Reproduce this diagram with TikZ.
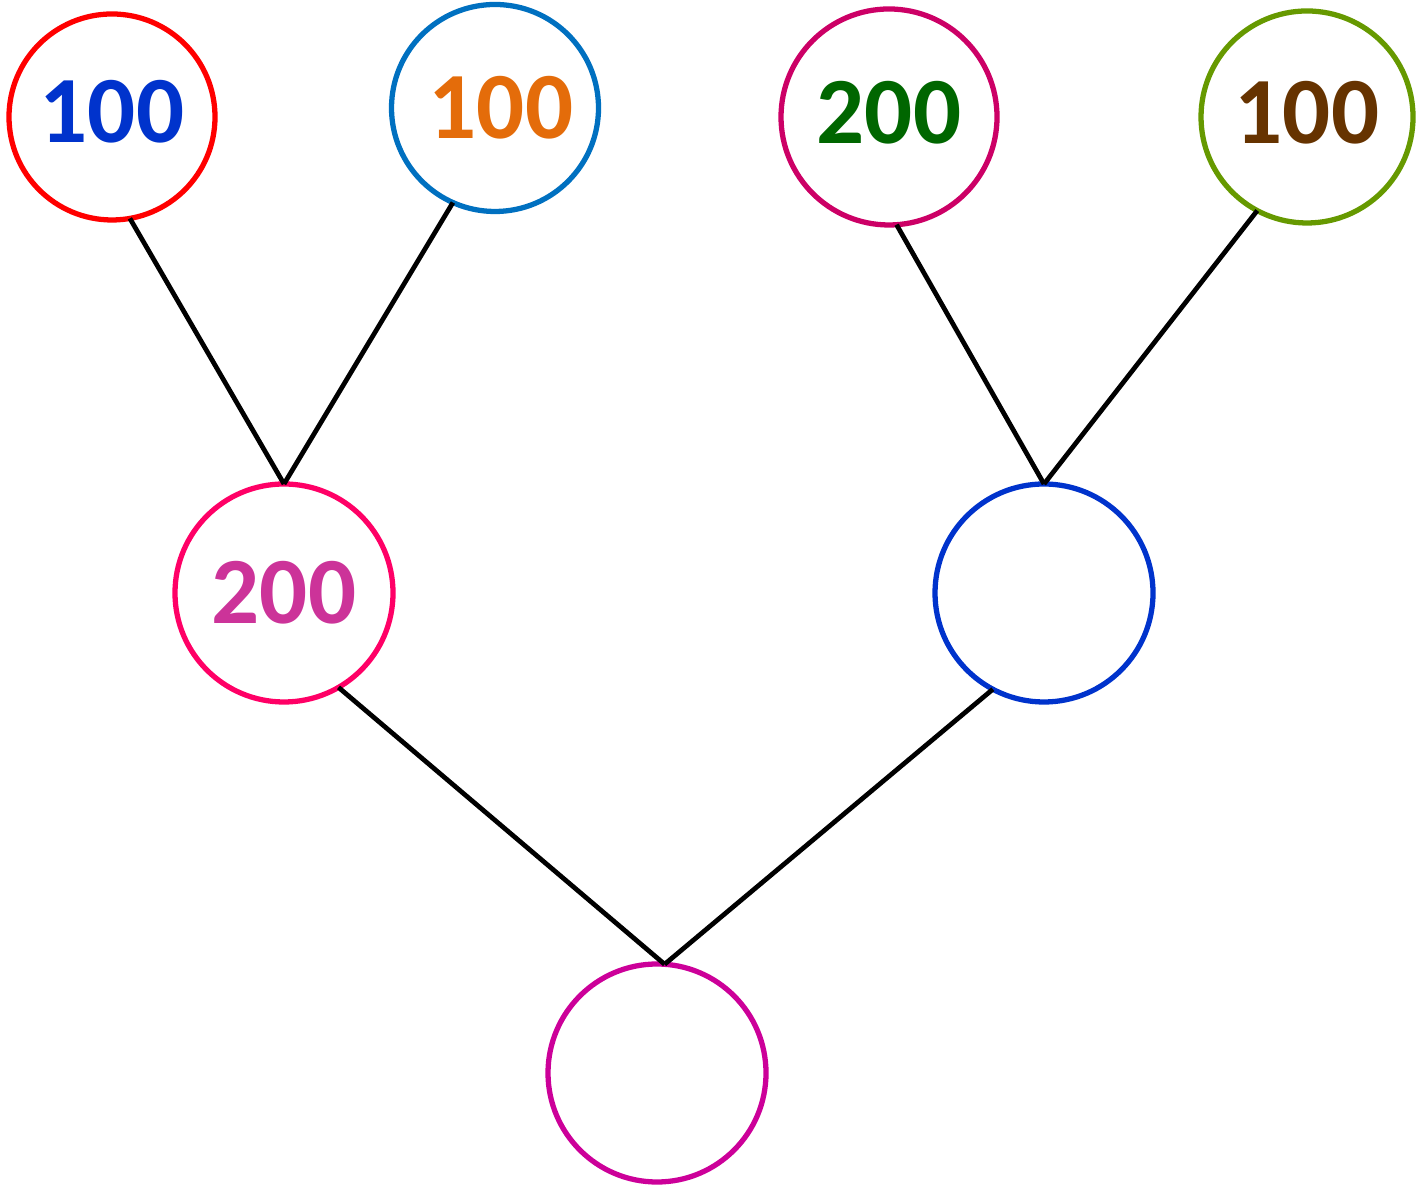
\documentclass[tikz,border=0pt]{standalone}
\usepackage{fontspec}
\setmainfont{Carlito}
\definecolor{cRed}{HTML}{FF0000}
\definecolor{cBlue}{HTML}{0033CC}
\definecolor{cSky}{HTML}{0070C0}
\definecolor{cOrange}{HTML}{E46C0A}
\definecolor{cBerry}{HTML}{CC0066}
\definecolor{cGreen}{HTML}{006600}
\definecolor{cOlive}{HTML}{669900}
\definecolor{cBrown}{HTML}{663300}
\definecolor{cRose}{HTML}{FF0066}
\definecolor{cOrchid}{HTML}{CC3399}
\definecolor{cPurple}{HTML}{CC0099}
\tikzset{
  ball/.style={circle, draw, line width=1.5pt, outer sep=0pt, inner sep=0pt,
    font=\fontsize{27}{32}\selectfont\bfseries},
  edge/.style={line width=1.35pt}
}
\begin{document}
\begin{tikzpicture}
  \useasboundingbox (0,0) rectangle (14.21,11.84);

  % leaves
  \node[ball, cRed, minimum size=2.06cm, text=cBlue] (a) at (1.12,10.67) {\raisebox{1.2mm}{100}};
  \node[ball, cSky, minimum size=2.07cm, text=cOrange] (b) at (4.95,10.76) {\hspace{1.2mm}100};
  \node[ball, cBerry, minimum size=2.16cm, text=cGreen] (c) at (8.89,10.67) {\raisebox{1mm}{200}};
  \node[ball, cOlive, minimum size=2.12cm, text=cBrown] (d) at (13.07,10.67) {\raisebox{1mm}{100}};

  % middle row
  \node[ball, cRose, minimum size=2.18cm, text=cOrchid] (e) at (2.84,5.91) {200};
  \node[ball, cBlue, minimum size=2.18cm] (f) at (10.44,5.91) {};

  % root
  \node[ball, cPurple, minimum size=2.18cm] (g) at (6.57,1.11) {};

  \draw[edge] (a.-80) -- (e.north);
  \draw[edge] (b.-114) -- (e.north);
  \draw[edge] (c.-86) -- (f.north);
  \draw[edge] (d.-118) -- (f.north);
  \draw[edge] (e.-60) -- (g.86);
  \draw[edge] (f.-118) -- (g.86);

\end{tikzpicture}
\end{document}
